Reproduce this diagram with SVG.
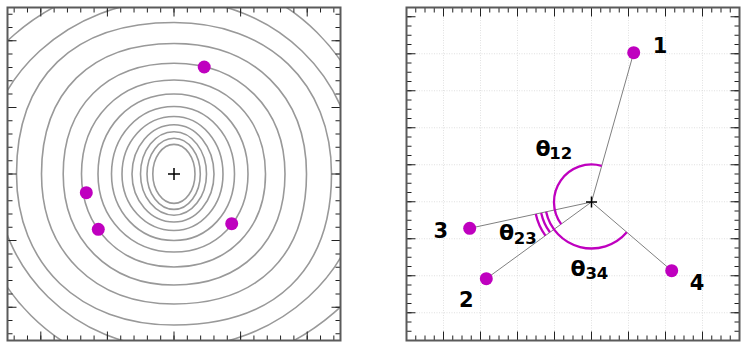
<svg xmlns="http://www.w3.org/2000/svg" width="747" height="349" viewBox="0 0 747 349">
<style>
.frame{fill:none;stroke:#5a5a5a;stroke-width:2}
.tk{stroke:#222;fill:none}
.ct{fill:none;stroke:#999;stroke-width:1.6}
.grid{stroke:#d9d9d9;stroke-width:0.8;stroke-dasharray:1 1.5}
.mk{fill:#bf00bf}
.ray{stroke:#808080;stroke-width:1}
.ang{fill:none;stroke:#bf00bf;stroke-width:2.3}
.plus{stroke:#000;stroke-width:1.5}
.lbl{font-family:"DejaVu Sans",sans-serif;font-weight:bold;fill:#000}
.num{font-size:21px;text-anchor:middle}
.th{font-size:22px}
.sub{font-size:16.5px}
</style>
<defs>
<clipPath id="clipL"><rect x="7.5" y="7.5" width="333" height="333"/></clipPath>
</defs>
<rect width="747" height="349" fill="#fff"/>

<!-- Left panel -->
<g id="left-panel">
<g id="contours" clip-path="url(#clipL)">
<path class="ct" d="M-52,174 C-52,65.3 49.2,-23 174,-23"/>
<path class="ct" d="M174,-26.5 C285.5,-26.5 376,63.3 376,174"/>
<path class="ct" d="M400,174 C400,282.5 298.8,370.5 174,370.5"/>
<path class="ct" d="M174,374.5 C62.5,374.5 -28,284.7 -28,174"/>
<path class="ct" d="M-16,174 C-16,78 69.1,0 174,0"/>
<path class="ct" d="M174,0 C273.9,0 355,78 355,174"/>
<path class="ct" d="M364,174 C364,270 278.9,348 174,348"/>
<path class="ct" d="M174,348 C75.7,348 -4,270 -4,174"/>
<path class="ct" d="M174,22.5 C268.5,22.5 331.5,83.1 331.5,174 C331.5,270.6 274.8,325 174,325 C79.5,325 16.5,264.6 16.5,174 C16.5,77 73.2,22.5 174,22.5Z"/>
<path class="ct" d="M174,43.5 C253.5,43.5 306.5,95.7 306.5,174 C306.5,255.9 257.5,304 174,304 C94.5,304 41.5,252 41.5,174 C41.5,91.8 90.5,43.5 174,43.5Z"/>
<path class="ct" d="M174,63.2 C239.5,63.2 285,108.6 285,174 C285,241.7 241.7,285 174,285 C108.6,285 63.2,239.5 63.2,174 C63.2,106.4 106.4,63.2 174,63.2Z"/>
<path class="ct" d="M174,80 C227.1,80 265.5,119.5 265.5,174 C265.5,228.9 228,267 174,267 C120.3,267 81.5,227.9 81.5,174 C81.5,118.5 119.4,80 174,80Z"/>
<path class="ct" d="M174,94 C216.2,94 248,128.4 248,174 C248,219.2 216.9,252 174,252 C130.7,252 98,218.5 98,174 C98,127.6 129.9,94 174,94Z"/>
<path class="ct" d="M174,106.5 C208.2,106.5 234.5,135.9 234.5,174 C234.5,211.6 208.2,240.5 174,240.5 C138.7,240.5 111.5,211.6 111.5,174 C111.5,135.9 138.7,106.5 174,106.5Z"/>
<path class="ct" d="M174,116.5 C201.3,116.5 223,141.9 223,174 C223,205.5 201.3,230.5 174,230.5 C145,230.5 122,205.5 122,174 C122,141.9 145,116.5 174,116.5Z"/>
<path class="ct" d="M174,124.7 C196.1,124.7 214,146.8 214,174 C214,200.5 196.1,222 174,222 C150.8,222 132,200.5 132,174 C132,146.8 150.8,124.7 174,124.7Z"/>
<path class="ct" d="M174,131.7 C191.9,131.7 206.5,150.7 206.5,174 C206.5,196.7 191.9,215.2 174,215.2 C155.5,215.2 140.5,196.7 140.5,174 C140.5,150.7 155.5,131.7 174,131.7Z"/>
<path class="ct" d="M174,138.2 C188.5,138.2 200.3,154.2 200.3,174 C200.3,193.5 188.5,209.4 174,209.4 C159.1,209.4 147,193.5 147,174 C147,154.2 159.1,138.2 174,138.2Z"/>
<path class="ct" d="M174,144.4 C185.6,144.4 195,157.7 195,174 C195,190.2 185.6,203.4 174,203.4 C162.3,203.4 152.8,190.2 152.8,174 C152.8,157.7 162.3,144.4 174,144.4Z"/>
</g>
<g id="left-ticks" class="tk">
<line x1="13.66" y1="10" x2="334.5" y2="10" stroke-width="5" stroke-dasharray="1 12.32"/>
<line x1="13.66" y1="338" x2="334.5" y2="338" stroke-width="5" stroke-dasharray="1 12.32"/>
<line x1="10" y1="13.66" x2="10" y2="334.5" stroke-width="5" stroke-dasharray="1 12.32"/>
<line x1="338" y1="13.66" x2="338" y2="334.5" stroke-width="5" stroke-dasharray="1 12.32"/>
<line x1="40.3" y1="12" x2="308" y2="12" stroke-width="9" stroke-dasharray="1 65.6"/>
<line x1="40.3" y1="336" x2="308" y2="336" stroke-width="9" stroke-dasharray="1 65.6"/>
<line x1="12" y1="40.3" x2="12" y2="308" stroke-width="9" stroke-dasharray="1 65.6"/>
<line x1="336" y1="40.3" x2="336" y2="308" stroke-width="9" stroke-dasharray="1 65.6"/>
</g>
<rect class="frame" x="7.5" y="7.5" width="333" height="333"/>
<path id="left-center" class="plus" d="M168,174h12M174,168v12"/>
<g id="left-points">
<circle id="lp1" class="mk" cx="204.2" cy="67" r="6.5"/>
<circle id="lp2" class="mk" cx="98.3" cy="229.3" r="6.5"/>
<circle id="lp3" class="mk" cx="86.3" cy="192.7" r="6.5"/>
<circle id="lp4" class="mk" cx="231.7" cy="223.7" r="6.5"/>
</g>
</g>

<!-- Right panel -->
<g id="right-panel">
<g id="grid" class="grid">
<path d="M443.5,7.5V340.5M480.5,7.5V340.5M517.5,7.5V340.5M554.5,7.5V340.5M591.5,7.5V340.5M628.5,7.5V340.5M665.5,7.5V340.5M702.5,7.5V340.5"/>
<path d="M406.5,53.75H739.5M406.5,90.75H739.5M406.5,127.75H739.5M406.5,164.75H739.5M406.5,201.75H739.5M406.5,238.75H739.5M406.5,275.75H739.5M406.5,312.75H739.5"/>
</g>
<g id="right-ticks" class="tk">
<line x1="415.25" y1="10" x2="739" y2="10" stroke-width="5" stroke-dasharray="1 8.25"/>
<line x1="415.25" y1="338" x2="739" y2="338" stroke-width="5" stroke-dasharray="1 8.25"/>
<line x1="409" y1="16.25" x2="409" y2="332" stroke-width="5" stroke-dasharray="1 8.25"/>
<line x1="737" y1="16.25" x2="737" y2="332" stroke-width="5" stroke-dasharray="1 8.25"/>
<line x1="443" y1="12" x2="703.5" y2="12" stroke-width="9" stroke-dasharray="1 36"/>
<line x1="443" y1="336" x2="703.5" y2="336" stroke-width="9" stroke-dasharray="1 36"/>
<line x1="411" y1="16.25" x2="411" y2="313.5" stroke-width="9" stroke-dasharray="1 36"/>
<line x1="735" y1="16.25" x2="735" y2="313.5" stroke-width="9" stroke-dasharray="1 36"/>
</g>
<rect class="frame" x="406.5" y="7.5" width="333" height="333"/>

<g id="connectors">
<line class="ray" x1="591.5" y1="202" x2="633.7" y2="52.7"/>
<line class="ray" x1="591.5" y1="202" x2="486.3" y2="278.7"/>
<line class="ray" x1="591.5" y1="202" x2="469.7" y2="228.3"/>
<line class="ray" x1="591.5" y1="202" x2="671.7" y2="270.7"/>
</g>

<g id="angles">
<path id="arc12" class="ang" d="M601.7,165.9 A37.5,37.5 0 0 0 561.2,224.1"/>
<path id="arc34" class="ang" d="M546.1,211.8 A46.5,46.5 0 0 0 626.8,232.3"/>
<path id="arc23" class="ang" d="M541.2,212.9 A51.5,51.5 0 0 0 549.9,232.3 M535.8,214 A57,57 0 0 0 545.4,235.6"/>
</g>

<path id="right-center" class="plus" d="M586,202h11M591.5,196.5v11"/>

<g id="node-1"><circle class="mk" cx="633.7" cy="52.7" r="6.5"/><text class="lbl num" x="660" y="53.3">1</text></g>
<g id="node-2"><circle class="mk" cx="486.3" cy="278.7" r="6.5"/><text class="lbl num" x="466.3" y="306.7">2</text></g>
<g id="node-3"><circle class="mk" cx="469.7" cy="228.3" r="6.5"/><text class="lbl num" x="440.7" y="238.3">3</text></g>
<g id="node-4"><circle class="mk" cx="671.7" cy="270.7" r="6.5"/><text class="lbl num" x="697" y="290">4</text></g>

<g id="angle-labels" class="lbl">
<text><tspan class="th" x="535.6" y="156.3">θ</tspan><tspan class="sub" x="549.2" y="159">12</tspan></text>
<text><tspan class="th" x="498.9" y="240.3">θ</tspan><tspan class="sub" x="513.8" y="244">23</tspan></text>
<text><tspan class="th" x="570.6" y="276.3">θ</tspan><tspan class="sub" x="585.4" y="279">34</tspan></text>
</g>
</g>
</svg>
